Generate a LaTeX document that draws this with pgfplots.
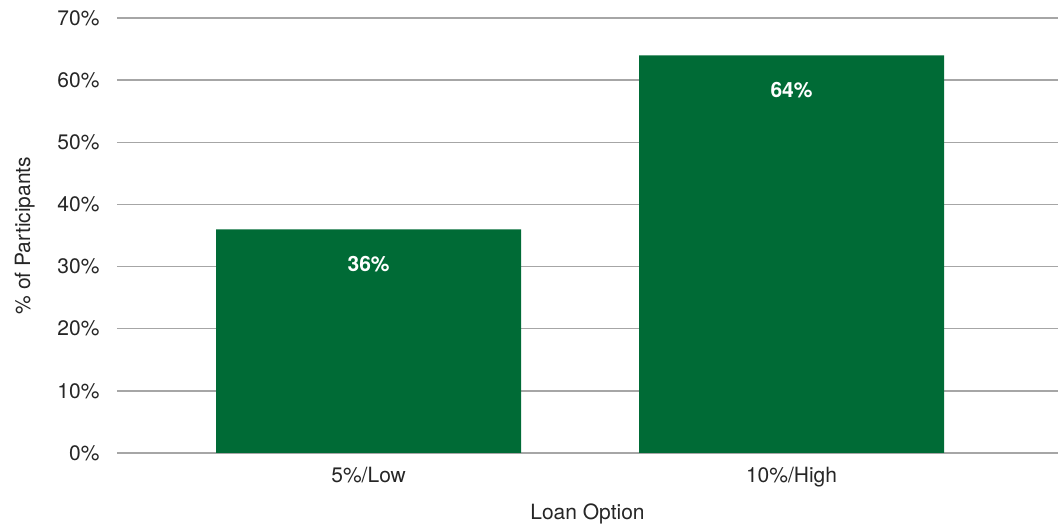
\documentclass[border=0pt]{standalone}
\usepackage{fontspec}
\setmainfont{TeX Gyre Heros}
\usepackage{pgfplots}
\pgfplotsset{compat=1.18}
\definecolor{barg}{HTML}{006B36}
\definecolor{gridg}{HTML}{A6A6A6}
\definecolor{txt}{HTML}{262626}
\begin{document}
\begin{tikzpicture}[x=1pt,y=1pt]
\useasboundingbox (-117,-74) rectangle (941,453);
\begin{axis}[
  at={(0,0)}, anchor=south west,
  scale only axis, width=941pt, height=435pt,
  xmin=-0.595, xmax=1.63, ymin=0, ymax=70,
  ytick={0,10,...,70},
  yticklabel={\pgfmathprintnumber{\tick}\%},
  xtick={0,1}, xticklabels={5\%/Low,10\%/High},
  /pgf/number format/assume math mode=true,
  axis line style={draw=none},
  tick style={draw=none},
  ymajorgrids, grid style={gridg, line width=1.5pt},
  ticklabel style={font=\fontsize{21}{25}\selectfont, text=txt},
  yticklabel style={xshift=-14pt},
  xticklabel style={yshift=-6pt},
  xlabel={Loan Option}, ylabel={\% of Participants},
  label style={font=\fontsize{21}{25}\selectfont, text=txt},
  ylabel style={yshift=16pt},
  xlabel style={yshift=-10pt},
  ybar, bar width=305pt,
  nodes near coords={\pgfmathprintnumber{\pgfplotspointmeta}\%},
  every node near coord/.append style={anchor=center, yshift=-35pt, text=white, font=\fontsize{21}{25}\selectfont\bfseries},
]
\addplot[fill=barg, draw=none] coordinates {(0,36) (1,64)};
\end{axis}
\end{tikzpicture}
\end{document}
